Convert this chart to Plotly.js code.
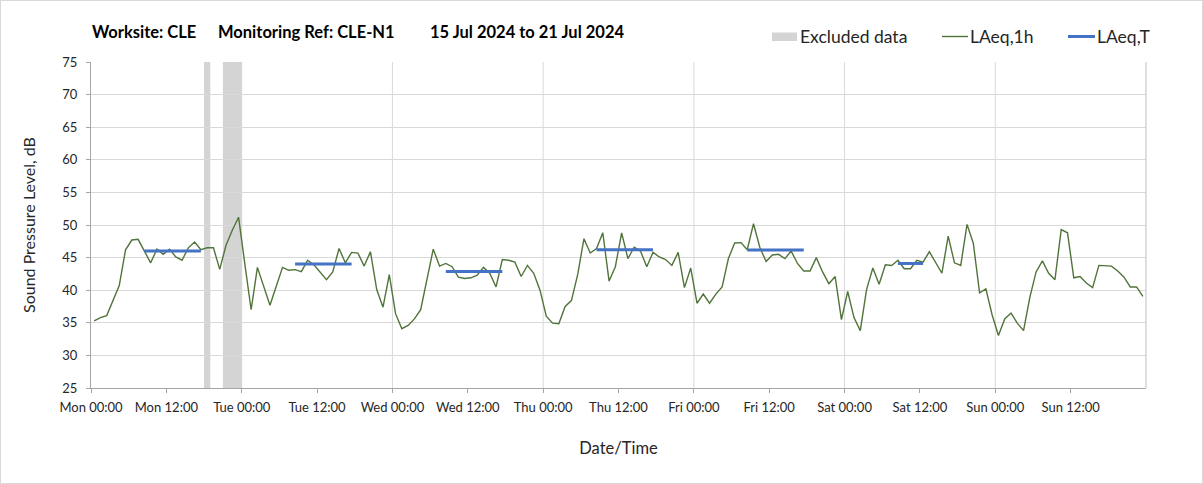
<!DOCTYPE html>
<html><head><meta charset="utf-8">
<script src="https://cdn.plot.ly/plotly-3.0.1.min.js"></script>
<style>
html,body{margin:0;padding:0;background:#fff;}
#wrap{position:relative;width:1203px;height:484px;}
#chart{width:1203px;height:484px;}
#frame{position:absolute;left:0;top:0;width:1203px;height:484px;box-sizing:border-box;border:1px solid #d9d9d9;pointer-events:none;}
</style></head><body>
<div id="wrap"><div id="chart"></div><div id="frame"></div></div>
<script>
// ---- data (hourly LAeq,1h, one array per day, 00:00..23:00) ----
const laeqMon = [35.3, 35.8, 36.1, 38.4, 40.7, 46.2, 47.7, 47.8, 46.0, 44.2, 46.3, 45.5, 46.3, 45.1, 44.6, 46.5, 47.4, 46.2, 46.5, 46.5, 43.2, 46.9, 49.2, 51.2];
const laeqTue = [44.0, 37.0, 43.5, 40.6, 37.7, 40.6, 43.5, 43.05, 43.15, 42.85, 44.6, 43.9, 42.8, 41.6, 42.8, 46.4, 44.2, 45.8, 45.7, 43.7, 45.9, 40.1, 37.4, 42.4];
const laeqWed = [36.4, 34.1, 34.6, 35.6, 37.0, 41.8, 46.3, 43.7, 44.1, 43.6, 42.0, 41.8, 41.9, 42.3, 43.5, 42.6, 40.5, 44.7, 44.6, 44.3, 42.1, 43.8, 42.6, 40.0];
const laeqThu = [36.0, 34.95, 34.85, 37.5, 38.4, 42.4, 47.9, 45.7, 46.4, 48.8, 41.4, 43.6, 48.8, 44.85, 46.6, 46.0, 43.6, 45.8, 45.1, 44.7, 43.8, 45.8, 40.4, 43.4];
const laeqFri = [38.0, 39.4, 38.0, 39.4, 40.5, 44.85, 47.25, 47.3, 46.2, 50.2, 46.6, 44.4, 45.4, 45.5, 44.85, 46.0, 44.1, 42.95, 42.95, 45.0, 42.8, 41.0, 42.1, 35.5];
const laeqSat = [39.8, 35.8, 33.8, 40.1, 43.4, 40.9, 43.9, 43.8, 44.6, 43.3, 43.3, 44.6, 44.3, 45.9, 44.2, 42.6, 48.3, 44.2, 43.8, 50.1, 47.2, 39.6, 40.2, 36.2];
const laeqSun = [33.05, 35.6, 36.5, 34.95, 33.8, 38.9, 42.8, 44.5, 42.6, 41.6, 49.3, 48.8, 41.9, 42.1, 41.1, 40.4, 43.8, 43.8, 43.7, 42.95, 42.0, 40.5, 40.5, 39.05];

// LAeq,T over each working period
const periodStart = ['2024-07-15 08:30', '2024-07-16 08:30', '2024-07-17 08:30', '2024-07-18 08:30', '2024-07-19 08:30', '2024-07-20 08:30'];
const periodEnd   = ['2024-07-15 17:30', '2024-07-16 17:30', '2024-07-17 17:30', '2024-07-18 17:30', '2024-07-19 17:30', '2024-07-20 12:30'];
const laeqT = [46.0, 44.0, 42.85, 46.2, 46.15, 44.1];

// Excluded data periods
const exclStart = ['2024-07-15 18:00', '2024-07-15 21:00'];
const exclEnd   = ['2024-07-15 19:00', '2024-07-16 00:00'];

// Axis ticks
const tickLabels = ['Mon 00:00', 'Mon 12:00', 'Tue 00:00', 'Tue 12:00', 'Wed 00:00', 'Wed 12:00', 'Thu 00:00', 'Thu 12:00', 'Fri 00:00', 'Fri 12:00', 'Sat 00:00', 'Sat 12:00', 'Sun 00:00', 'Sun 12:00'];
const yTicks = [25, 30, 35, 40, 45, 50, 55, 60, 65, 70, 75];

// ---- build ----
const HOUR = 3600000;
const base = Date.UTC(2024, 6, 15, 0, 0);
const fmt = ms => new Date(ms).toISOString().slice(0, 16).replace('T', ' ');

const hourly = [].concat(laeqMon, laeqTue, laeqWed, laeqThu, laeqFri, laeqSat, laeqSun);
const hourlyX = hourly.map((v, i) => fmt(base + (i + 0.5) * HOUR));
const tickVals = tickLabels.map((t, i) => fmt(base + i * 12 * HOUR));
const dayLines = [1, 2, 3, 4, 5, 6].map(d => fmt(base + d * 24 * HOUR));

const tX = [], tY = [];
laeqT.forEach((v, i) => { tX.push(periodStart[i], periodEnd[i], null); tY.push(v, v, null); });

// plot-area geometry (pixels) for legend/title placement
const PL = 91, PR = 1146, PT = 62, PB = 388;
const px = x => (x - PL) / (PR - PL);
const py = y => (PB - y) / (PB - PT);

const GREEN = '#50743a', BLUE = '#4472c4', BAND = '#d4d4d4', GRID = '#d9d9d9';
const FONT = 'Lato, "Open Sans", sans-serif';

const shapes = [];
dayLines.forEach(d => shapes.push({type: 'line', xref: 'x', yref: 'paper', x0: d, x1: d, y0: 0, y1: 1, line: {color: GRID, width: 1}, layer: 'below'}));
exclStart.forEach((s, i) => shapes.push({type: 'rect', xref: 'x', yref: 'paper', x0: s, x1: exclEnd[i], y0: 0, y1: 1, fillcolor: BAND, line: {width: 0}, layer: 'below'}));
// right border of plot area
shapes.push({type: 'line', xref: 'paper', yref: 'paper', x0: 1, x1: 1, y0: 0, y1: 1, line: {color: '#bfbfbf', width: 1}});
// legend symbols
shapes.push({type: 'rect', xref: 'paper', yref: 'paper', x0: px(772), x1: px(797), y0: py(41), y1: py(32.5), fillcolor: BAND, line: {width: 0}});
shapes.push({type: 'line', xref: 'paper', yref: 'paper', x0: px(942), x1: px(968), y0: py(36.5), y1: py(36.5), line: {color: GREEN, width: 1.4}});
shapes.push({type: 'line', xref: 'paper', yref: 'paper', x0: px(1068), x1: px(1095), y0: py(36.5), y1: py(36.5), line: {color: BLUE, width: 3}});

const ann = (x, y, text, size, bold) => ({xref: 'paper', yref: 'paper', x: px(x), y: py(y), xanchor: 'left', yanchor: 'middle', showarrow: false,
  text: bold ? '<b>' + text + '</b>' : text, font: {family: FONT, size: size, color: bold ? '#000' : '#262626'}});

const annotations = [
  ann(89.5, 32.5, 'Worksite: CLE', 16.5, true),
  ann(215.5, 32.5, 'Monitoring Ref: CLE-N1', 16.5, true),
  ann(428, 32.5, '15 Jul 2024 to 21 Jul 2024', 16.5, true),
  ann(798, 36, 'Excluded data', 17.5, false),
  ann(968, 36, 'LAeq,1h', 17.5, false),
  ann(1095, 36, 'LAeq,T', 17.5, false)
];

const traces = [
  {x: hourlyX, y: hourly, type: 'scatter', mode: 'lines', name: 'LAeq,1h', line: {color: GREEN, width: 1.4}, hoverinfo: 'skip'},
  {x: tX, y: tY, type: 'scatter', mode: 'lines', name: 'LAeq,T', line: {color: BLUE, width: 3}, connectgaps: false, hoverinfo: 'skip'}
];

const layout = {
  width: 1203, height: 484,
  margin: {l: PL, r: 1203 - PR, t: PT, b: 484 - PB, pad: 0},
  paper_bgcolor: '#fff', plot_bgcolor: '#fff',
  showlegend: false,
  font: {family: FONT, size: 13, color: '#262626'},
  xaxis: {
    type: 'date', range: [fmt(base), fmt(base + 168 * HOUR)],
    tickmode: 'array', tickvals: tickVals, ticktext: tickLabels,
    showgrid: false, zeroline: false, showline: true, linecolor: '#a6a6a6', linewidth: 1,
    ticks: 'outside', ticklen: 4, tickcolor: '#a6a6a6', ticklabelstandoff: 3,
    tickfont: {family: FONT, size: 13, color: '#262626'},
    title: {text: 'Date/Time', font: {family: FONT, size: 16.5, color: '#262626'}, standoff: 28}
  },
  yaxis: {
    range: [25, 75], tickmode: 'array', tickvals: yTicks,
    showgrid: true, gridcolor: GRID, gridwidth: 1, zeroline: false,
    showline: true, linecolor: '#a6a6a6', linewidth: 1,
    ticks: 'outside', ticklen: 4, tickcolor: '#a6a6a6', ticklabelstandoff: 6,
    tickfont: {family: FONT, size: 13, color: '#262626'},
    title: {text: 'Sound Pressure Level, dB', font: {family: FONT, size: 16, color: '#262626'}, standoff: 22}
  },
  shapes: shapes,
  annotations: annotations
};

Plotly.newPlot('chart', traces, layout, {displayModeBar: false, staticPlot: true});
</script>
</body></html>
